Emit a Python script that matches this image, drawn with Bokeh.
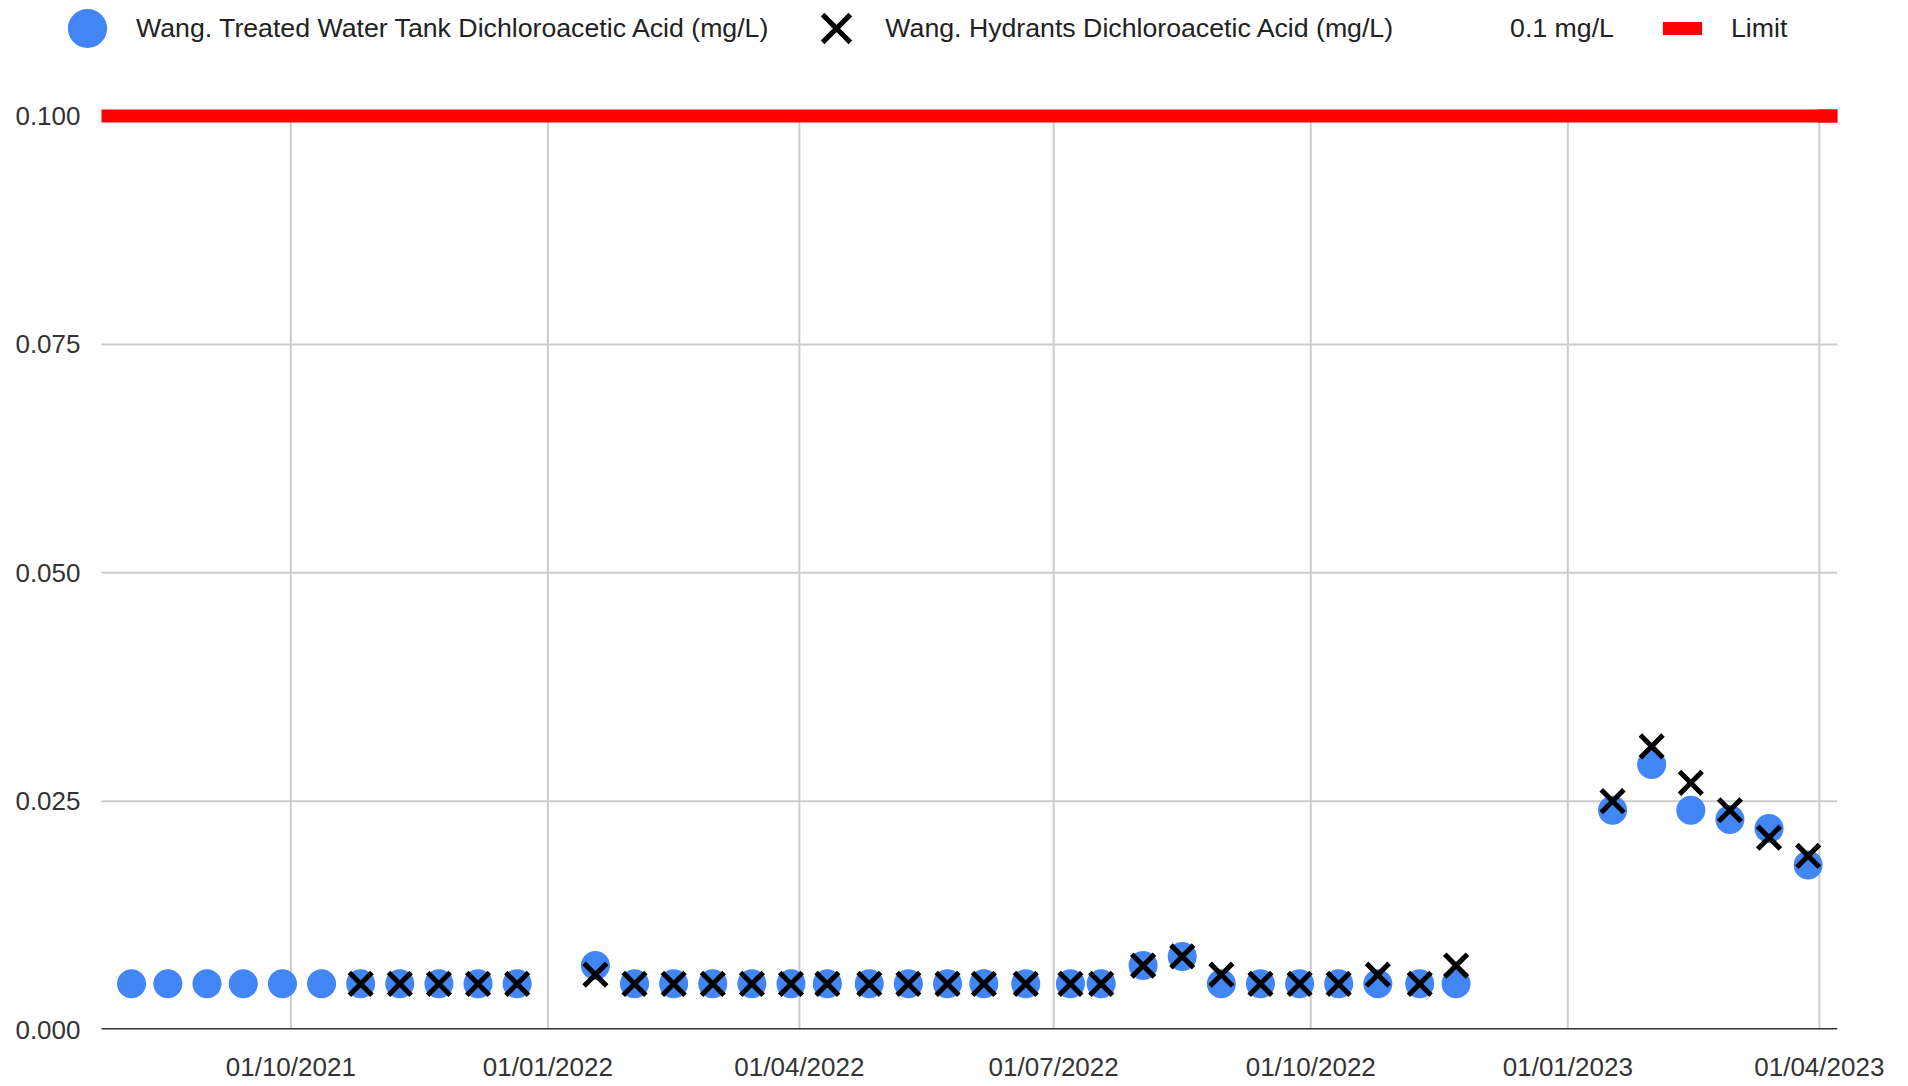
import pandas as pd
from bokeh.plotting import figure
from bokeh.models import Range1d, FixedTicker, Legend, LegendItem
from bokeh.embed import file_html
from bokeh.resources import INLINE

# ---------------- data ----------------
tank_dates = [
    "2021-08-05", "2021-08-18", "2021-09-01", "2021-09-14", "2021-09-28", "2021-10-12",
    "2021-10-26", "2021-11-09", "2021-11-23", "2021-12-07", "2021-12-21",
    "2022-01-18", "2022-02-01", "2022-02-15", "2022-03-01", "2022-03-15", "2022-03-29",
    "2022-04-11", "2022-04-26", "2022-05-10", "2022-05-24", "2022-06-06", "2022-06-21",
    "2022-07-07", "2022-07-18", "2022-08-02", "2022-08-16", "2022-08-30", "2022-09-13",
    "2022-09-27", "2022-10-11", "2022-10-25", "2022-11-09", "2022-11-22",
    "2023-01-17", "2023-01-31", "2023-02-14", "2023-02-28", "2023-03-14", "2023-03-28",
]
tank_values = [
    0.005, 0.005, 0.005, 0.005, 0.005, 0.005,
    0.005, 0.005, 0.005, 0.005, 0.005,
    0.007, 0.005, 0.005, 0.005, 0.005, 0.005,
    0.005, 0.005, 0.005, 0.005, 0.005, 0.005,
    0.005, 0.005, 0.007, 0.008, 0.005, 0.005,
    0.005, 0.005, 0.005, 0.005, 0.005,
    0.024, 0.029, 0.024, 0.023, 0.022, 0.018,
]
hydrant_dates = [
    "2021-10-26", "2021-11-09", "2021-11-23", "2021-12-07", "2021-12-21",
    "2022-01-18", "2022-02-01", "2022-02-15", "2022-03-01", "2022-03-15", "2022-03-29",
    "2022-04-11", "2022-04-26", "2022-05-10", "2022-05-24", "2022-06-06", "2022-06-21",
    "2022-07-07", "2022-07-18", "2022-08-02", "2022-08-16", "2022-08-30", "2022-09-13",
    "2022-09-27", "2022-10-11", "2022-10-25", "2022-11-09", "2022-11-22",
    "2023-01-17", "2023-01-31", "2023-02-14", "2023-02-28", "2023-03-14", "2023-03-28",
]
hydrant_values = [
    0.005, 0.005, 0.005, 0.005, 0.005,
    0.006, 0.005, 0.005, 0.005, 0.005, 0.005,
    0.005, 0.005, 0.005, 0.005, 0.005, 0.005,
    0.005, 0.005, 0.007, 0.008, 0.006, 0.005,
    0.005, 0.005, 0.006, 0.005, 0.007,
    0.025, 0.031, 0.027, 0.024, 0.021, 0.019,
]
limit_value = 0.1

tank_name = "Wang. Treated Water Tank Dichloroacetic Acid (mg/L)"
hydrant_name = "Wang. Hydrants Dichloroacetic Acid (mg/L)"
limit_title = "0.1 mg/L"
limit_name = "Limit"

x_tick_dates = ["2021-10-01", "2022-01-01", "2022-04-01", "2022-07-01",
                "2022-10-01", "2023-01-01", "2023-04-01"]
x_tick_labels = ["01/10/2021", "01/01/2022", "01/04/2022", "01/07/2022",
                 "01/10/2022", "01/01/2023", "01/04/2023"]
y_ticks = [0.0, 0.025, 0.05, 0.075, 0.1]
y_tick_labels = ["0.000", "0.025", "0.050", "0.075", "0.100"]
y_grid_values = [0.025, 0.05, 0.075]

x_start = "2021-07-25 06:00"   # left end of the plotted axis
x_end = "2023-04-07 12:00"     # right end of the plotted axis
y_start = 0.0


def ms(s):
    return int(pd.Timestamp(s).value // 10**6)


tank_x = [ms(d) for d in tank_dates]
hyd_x = [ms(d) for d in hydrant_dates]
tick_x = [ms(d) for d in x_tick_dates]
x0, x1 = ms(x_start), ms(x_end)

# ---------------- geometry (pixels) ----------------
AXIS_LEFT = 101      # where the axis line / grid start
FRAME_LEFT = 66      # frame starts a little further left so the legend key is visible
AXIS_RIGHT = 1837
FRAME_H = 1029       # frame from the canvas top down to the baseline
LIMIT_PX = 115.6     # vertical position of 0.1 from the top

frame_w = AXIS_RIGHT - FRAME_LEFT
view_x0 = x0 - (x1 - x0) * (AXIS_LEFT - FRAME_LEFT) / (AXIS_RIGHT - AXIS_LEFT)
y_end = limit_value * FRAME_H / (FRAME_H - LIMIT_PX)

FONT = "Liberation Sans"
FS = "26px"
LFS = "26.7px"
BLUE = "#4285f4"
RED = "#ff0000"
GRID = "#cccccc"

p = figure(
    frame_width=frame_w, frame_height=FRAME_H,
    min_border_left=FRAME_LEFT, min_border_right=1892 - AXIS_RIGHT,
    min_border_top=0, min_border_bottom=53,
    x_range=Range1d(view_x0, x1),
    y_range=Range1d(y_start, y_end),
    output_backend="svg", toolbar_location=None,
    outline_line_color=None, background_fill_color="white", border_fill_color="white",
)
p.xgrid.visible = False
p.ygrid.visible = False

xa = p.xaxis[0]
xa.ticker = FixedTicker(ticks=tick_x)
xa.major_label_overrides = {t: lab for t, lab in zip(tick_x, x_tick_labels)}
xa.axis_line_color = None
xa.major_tick_line_color = None
xa.minor_tick_line_color = None
xa.major_tick_out = 0
xa.major_tick_in = 0
xa.major_label_standoff = 22
xa.major_label_text_font = FONT
xa.major_label_text_font_size = FS
xa.major_label_text_color = "#333333"

ya = p.yaxis[0]
ya.ticker = FixedTicker(ticks=y_ticks)
ya.major_label_overrides = {t: lab for t, lab in zip(y_ticks, y_tick_labels)}
ya.axis_line_color = None
ya.major_tick_line_color = None
ya.minor_tick_line_color = None
ya.major_tick_out = 0
ya.major_tick_in = 0
ya.major_label_standoff = -(80 - FRAME_LEFT)
ya.major_label_text_font = FONT
ya.major_label_text_font_size = FS
ya.major_label_text_color = "#333333"

# grid lines (bounded to the axis extent)
p.segment(x0=[x0] * len(y_grid_values), y0=y_grid_values,
          x1=[x1] * len(y_grid_values), y1=y_grid_values,
          line_color=GRID, line_width=2)
p.segment(x0=tick_x, y0=[y_start] * len(tick_x), x1=tick_x, y1=[limit_value] * len(tick_x),
          line_color=GRID, line_width=2)
# baseline
p.segment(x0=[x0], y0=[y_start], x1=[x1], y1=[y_start], line_color="#333333", line_width=3)

# limit line and legend keys
p.line(x=[x0, x1], y=[limit_value, limit_value], line_color=RED, line_width=13)
limit_key = p.scatter(x=[x1], y=[limit_value], marker="dash", size=39,
                      line_color=RED, line_width=13)
title_key = p.scatter(x=[x1], y=[limit_value], marker="circle", size=1,
                      fill_alpha=0, line_alpha=0)

tank_r = p.scatter(x=tank_x, y=tank_values, marker="circle", size=29,
                   fill_color=BLUE, line_color=None)
hyd_r = p.scatter(x=hyd_x, y=hydrant_values, marker="x", size=32,
                  line_color="#000000", line_width=5)

legend = Legend(
    items=[
        LegendItem(label=tank_name, renderers=[tank_r]),
        LegendItem(label=hydrant_name, renderers=[hyd_r]),
        LegendItem(label=limit_title, renderers=[title_key]),
        LegendItem(label=limit_name, renderers=[limit_key]),
    ],
    location=(-28, 952), orientation="horizontal",
    glyph_width=98, glyph_height=98, label_standoff=0, spacing=19,
    padding=0, margin=0,
    border_line_color=None, background_fill_alpha=0,
    label_text_font=FONT, label_text_font_size=LFS, label_text_color="#222222",
)
p.add_layout(legend)

open("out.html", "w").write(file_html(p, INLINE))
